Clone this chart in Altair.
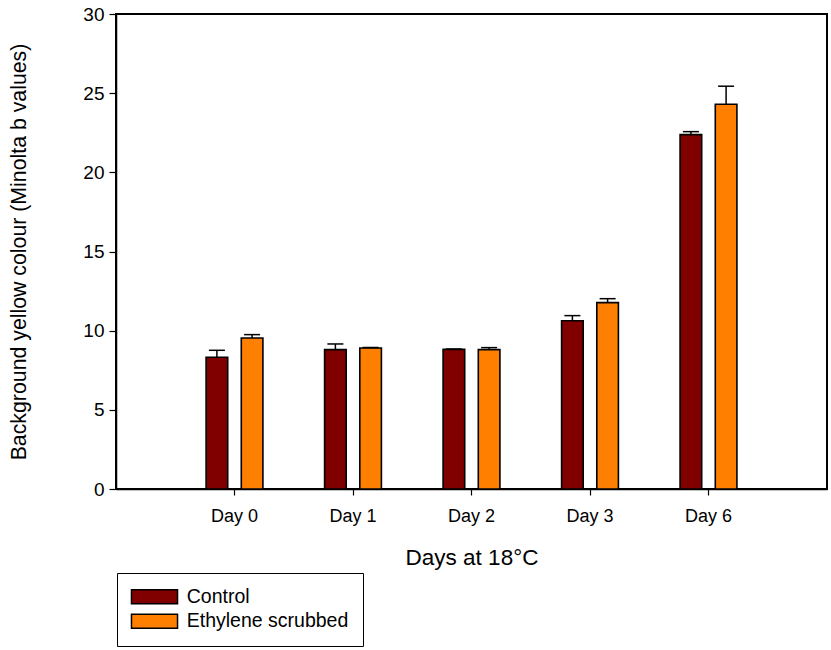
import altair as alt
import pandas as pd

days = ["Day 0", "Day 1", "Day 2", "Day 3", "Day 6"]
treatments = ["Control", "Ethylene scrubbed"]
control_vals = [8.32, 8.80, 8.82, 10.63, 22.38]
control_err = [0.44, 0.36, 0.02, 0.32, 0.19]
scrubbed_vals = [9.54, 8.91, 8.80, 11.77, 24.30]
scrubbed_err = [0.21, 0.02, 0.13, 0.25, 1.14]
colors = ["#800000", "#FF8000"]

rows = []
for d, v, e in zip(days, control_vals, control_err):
    rows.append({"day": d, "treatment": treatments[0], "value": v, "top": v + e})
for d, v, e in zip(days, scrubbed_vals, scrubbed_err):
    rows.append({"day": d, "treatment": treatments[1], "value": v, "top": v + e})
df = pd.DataFrame(rows)

FONT = "Liberation Sans"
W, H = 711, 475

x_enc = alt.X("day:N", sort=days,
              scale=alt.Scale(paddingOuter=0.5, paddingInner=0),
              axis=alt.Axis(title="Days at 18°C", labelAngle=0, tickSize=6,
                            labelFontSize=18, labelPadding=12,
                            titleFontSize=22.5, titleFontWeight="normal",
                            titleX=W / 2, titleY=68, titleBaseline="middle",
                            domainColor="black", domainWidth=1.5,
                            tickColor="black", tickWidth=1.2,
                            labelColor="black", titleColor="black",
                            labelFont=FONT, titleFont=FONT))
xoff = alt.XOffset("treatment:N", sort=treatments,
                   scale=alt.Scale(paddingInner=0.386, paddingOuter=0.876))
y_enc = alt.Y("value:Q",
              scale=alt.Scale(domain=[0, 30], nice=False),
              axis=alt.Axis(title="Background yellow colour (Minolta b values)",
                            values=[0, 5, 10, 15, 20, 25, 30], tickSize=7,
                            grid=False, labelFontSize=19, labelPadding=5,
                            titleFontSize=21.3, titleFontWeight="normal",
                            titleX=-97, titleY=H / 2, titleAngle=-90,
                            titleAlign="center", titleBaseline="middle",
                            domainColor="black", domainWidth=1.5,
                            tickColor="black", tickWidth=1.2,
                            labelColor="black", titleColor="black",
                            labelFont=FONT, titleFont=FONT))

bars = alt.Chart(df).mark_bar(stroke="black", strokeWidth=1.6).encode(
    x=x_enc,
    xOffset=xoff,
    y=y_enc,
    color=alt.Color("treatment:N", sort=treatments,
                    scale=alt.Scale(domain=treatments, range=colors),
                    legend=alt.Legend(
                        title=None, orient="none", legendX=1, legendY=559,
                        symbolType="M-3.29,-1L3.29,-1L3.29,1L-3.29,1Z",
                        symbolSize=196, symbolStrokeColor="black",
                        symbolStrokeWidth=1.5, symbolOpacity=1,
                        symbolOffset=13.75, labelOffset=22.5,
                        labelFontSize=19.5, labelFont=FONT, labelColor="black",
                        rowPadding=3.5, padding=14,
                        strokeColor="black", fillColor="white",
                        labelLimit=400)),
)

err = alt.Chart(df).mark_rule(color="black", strokeWidth=1.5).encode(
    x=alt.X("day:N", sort=days),
    xOffset=alt.XOffset("treatment:N", sort=treatments),
    y="value:Q",
    y2="top:Q",
)

caps = alt.Chart(df).mark_tick(color="black", thickness=1.5, size=16,
                               orient="horizontal", opacity=1).encode(
    x=alt.X("day:N", sort=days),
    xOffset=alt.XOffset("treatment:N", sort=treatments),
    y="top:Q",
)

chart = alt.layer(bars, err, caps).properties(
    width=W, height=H,
    autosize=alt.AutoSizeParams(type="none"),
    padding={"left": 116, "top": 14, "right": 4, "bottom": 161},
    view=alt.ViewBackground(stroke="#000000", strokeWidth=2),
).configure_view(
    stroke="#000000", strokeWidth=2
).configure(font=FONT, background="white")

chart.save("out.html", embed_options={"renderer": "svg", "actions": False})
